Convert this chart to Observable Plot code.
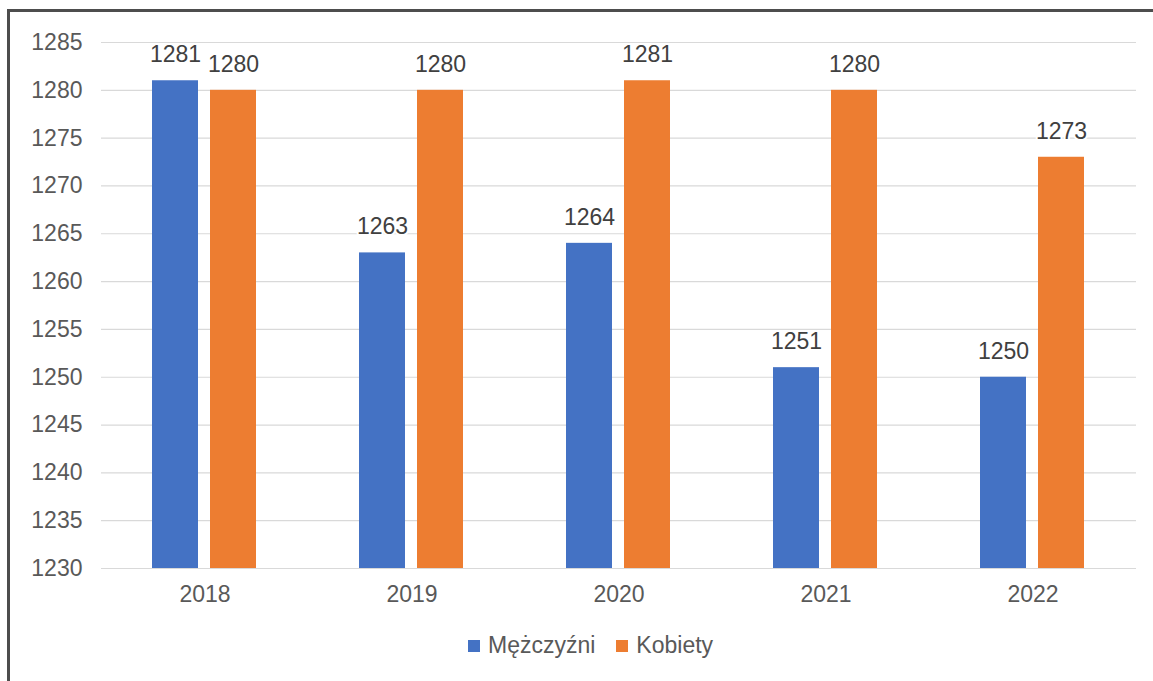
<!DOCTYPE html>
<html>
<head>
<meta charset="utf-8">
<script src="https://cdn.jsdelivr.net/npm/d3@7"></script>
<script src="https://cdn.jsdelivr.net/npm/@observablehq/plot@0.6"></script>
<style>
  html, body { margin: 0; padding: 0; background: #fff; width: 1153px; height: 681px; overflow: hidden; }
  #frame { position: absolute; left: 7px; top: 9px; width: 1160px; height: 700px;
           border-left: 3px solid #4d4d4d; border-top: 3px solid #4d4d4d; box-sizing: border-box; }
  #chart { position: absolute; left: 0; top: 0; }
  #legend { position: absolute; left: 468px; top: 632px; display: flex; align-items: center;
            font-family: "Liberation Sans", Arial, sans-serif; font-size: 23px; color: #595959; }
  #legend .sw { width: 12px; height: 12px; display: inline-block; margin-right: 8px; }
  #legend .item { display: flex; align-items: center; margin-right: 21px; }
</style>
</head>
<body>
<div id="frame"></div>
<div id="chart"></div>
<div id="legend"></div>
<script>
const years = ["2018", "2019", "2020", "2021", "2022"];
const series = ["Mężczyźni", "Kobiety"];
const men = [1281, 1263, 1264, 1251, 1250];
const women = [1280, 1280, 1281, 1280, 1273];
const colors = ["#4472C4", "#ED7D31"];
const yDomain = [1230, 1285];
const yTicks = [1230, 1235, 1240, 1245, 1250, 1255, 1260, 1265, 1270, 1275, 1280, 1285];

const data = [];
years.forEach((y, i) => {
  data.push({year: y, series: series[0], value: men[i]});
  data.push({year: y, series: series[1], value: women[i]});
});

const plot = Plot.plot({
  width: 1153,
  height: 620,
  marginLeft: 101,
  marginRight: 17,
  marginTop: 42,
  marginBottom: 52,
  style: {fontFamily: "'Liberation Sans', Arial, sans-serif", fontSize: "23px", color: "#595959", background: "transparent"},
  fx: {domain: years, padding: 0, axis: "bottom", label: null, tickSize: 0, tickPadding: 17},
  x: {domain: series, paddingInner: 0.2, paddingOuter: 0.88, axis: null},
  y: {domain: yDomain, ticks: yTicks, tickSize: 0, tickPadding: 19, label: null, tickFormat: d => String(d)},
  color: {domain: series, range: colors},
  marks: [
    Plot.gridY(yTicks, {stroke: "#d9d9d9", strokeOpacity: 1, strokeWidth: 1.2}),
    Plot.barY(data, {fx: "year", x: "series", y1: () => yDomain[0], y2: "value", fill: "series"}),
    Plot.text(data, {fx: "year", x: "series", y: "value", text: d => String(d.value), dy: -26,
                     fill: "#404040", stroke: "white", strokeWidth: 4, fontSize: 23})
  ]
});
document.getElementById("chart").appendChild(plot);

const legend = document.getElementById("legend");
series.forEach((s, i) => {
  const item = document.createElement("div");
  item.className = "item";
  const sw = document.createElement("span");
  sw.className = "sw";
  sw.style.background = colors[i];
  item.appendChild(sw);
  item.appendChild(document.createTextNode(s));
  legend.appendChild(item);
});
</script>
</body>
</html>
